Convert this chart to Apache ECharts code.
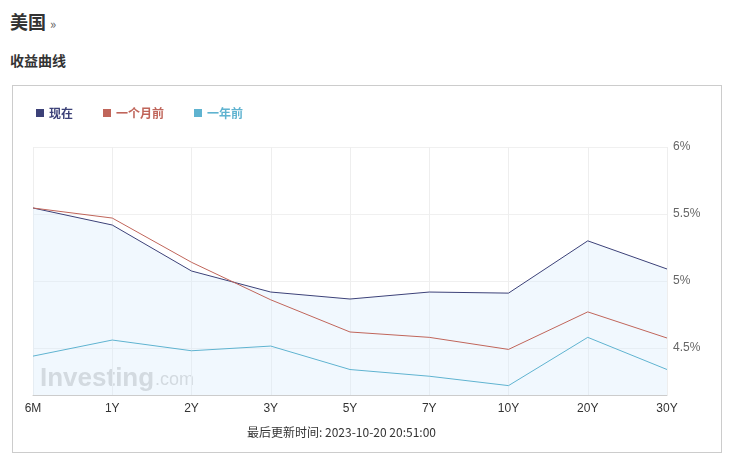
<!DOCTYPE html>
<html><head><meta charset="utf-8">
<script src="https://cdn.jsdelivr.net/npm/echarts@6/dist/echarts.min.js"></script>
<style>
body{margin:0;background:#fff;font-family:"Noto Sans CJK SC",Arial,sans-serif;}
#h1{position:absolute;left:10px;top:8px;font-size:18px;font-weight:bold;color:#333;}
#h1 span{font-size:13px;color:#666;font-weight:normal;}
#h2{position:absolute;left:10px;top:50px;font-size:14px;font-weight:bold;color:#333;}
#box{position:absolute;left:12px;top:85px;width:708px;height:366px;border:1px solid #ccc;}
#chart{width:708px;height:366px;}
</style></head><body>
<div id="h1">美国 <span>»</span></div>
<div id="h2">收益曲线</div>
<div id="box"><div id="chart"></div></div>
<script>
// 期限
const terms = ['6M', '1Y', '2Y', '3Y', '5Y', '7Y', '10Y', '20Y', '30Y'];
const nowVals = [5.545, 5.418, 5.075, 4.918, 4.866, 4.918, 4.91, 5.30, 5.09];
const monthAgo = [5.545, 5.47, 5.14, 4.86, 4.62, 4.58, 4.49, 4.77, 4.575];
const yearAgo = [4.44, 4.56, 4.48, 4.515, 4.34, 4.29, 4.22, 4.58, 4.34];
const yTicks = [4.5, 5, 5.5, 6];

const chart = echarts.init(document.getElementById('chart'));
const line = (name, data, color, area) => ({
  name, type: 'line', data, symbol: 'none',
  lineStyle: { color, width: 1 }, itemStyle: { color },
  areaStyle: area ? { color: 'rgba(215,235,252,0.5)' } : undefined,
});
chart.setOption({
  animation: false,
  legend: {
    left: 18, top: 16, icon: 'rect', itemWidth: 8, itemHeight: 8, itemGap: 30,
    textStyle: { fontSize: 12, fontWeight: 'bold', fontFamily: 'Noto Sans CJK SC' },
    data: [
      { name: '现在', textStyle: { color: '#3c4178' } },
      { name: '一个月前', textStyle: { color: '#c0655a' } },
      { name: '一年前', textStyle: { color: '#5fb3d0' } },
    ],
  },
  grid: { left: 20, right: 54, top: 61, bottom: 57 },
  graphic: [
    { type: 'text', left: 27, bottom: 60, style: { text: 'Investing', fontSize: 26, fontWeight: 'bold', fontFamily: 'Arial', fill: 'rgba(150,150,150,0.45)' } },
    { type: 'text', left: 142, bottom: 63, style: { text: '.com', fontSize: 18, fontFamily: 'Arial', fill: 'rgba(150,150,150,0.45)' } },
    { type: 'text', left: 234, bottom: 14, style: { text: '最后更新时间: 2023-10-20 20:51:00', fontSize: 12, fill: '#333', fontFamily: 'Noto Sans CJK SC' } },
  ],
  xAxis: {
    type: 'category', data: terms, boundaryGap: false,
    axisLine: { lineStyle: { color: '#ccc' } }, axisTick: { show: false },
    axisLabel: { color: '#333', fontSize: 12, margin: 8 },
    splitLine: { show: true, lineStyle: { color: '#eee' } },
  },
  yAxis: {
    type: 'value', position: 'right', min: 4.15, max: 6,
    axisLine: { show: false }, axisTick: { show: false, customValues: yTicks },
    axisLabel: { color: '#666', fontSize: 12, customValues: yTicks, formatter: v => v + '%', margin: 6 },
    splitLine: { show: true, lineStyle: { color: '#f0f0f0' } },
  },
  series: [
    line('现在', nowVals, '#3c4178', true),
    line('一个月前', monthAgo, '#c0655a'),
    line('一年前', yearAgo, '#5fb3d0'),
  ],
});
</script></body></html>
